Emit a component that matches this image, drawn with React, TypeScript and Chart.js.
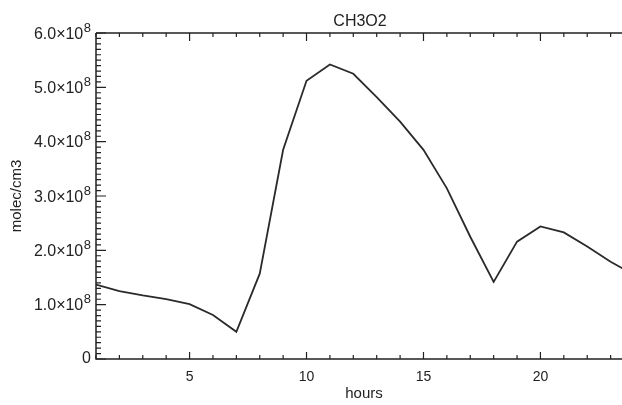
import React, { useEffect, useRef } from "react";
import { Chart, registerables } from "chart.js";

Chart.register(...registerables);

const hours = [1, 2, 3, 4, 5, 6, 7, 8, 9, 10, 11, 12, 13, 14, 15, 16, 17, 18, 19, 20, 21, 22, 23, 24];
const ch3o2 = [
  1.37e8, 1.25e8, 1.17e8, 1.1e8, 1.01e8, 0.81e8, 0.5e8, 1.57e8, 3.85e8, 5.12e8, 5.42e8, 5.25e8,
  4.82e8, 4.37e8, 3.85e8, 3.14e8, 2.25e8, 1.42e8, 2.16e8, 2.44e8, 2.33e8, 2.07e8, 1.79e8, 1.55e8,
];
const xTickValues = [5, 10, 15, 20];
const yTickValues = [0, 1e8, 2e8, 3e8, 4e8, 5e8, 6e8];
const yTickMantissas = ["0", "1.0", "2.0", "3.0", "4.0", "5.0", "6.0"];
const titleText = "CH3O2";
const xTitle = "hours";
const yTitle = "molec/cm3";

const FONT = '"Liberation Sans", Arial, sans-serif';
const INK = "#222";

const framePlugin = {
  id: "idlFrame",
  afterDraw(chart: any) {
    const { ctx, chartArea, scales } = chart;
    const { left, right, top, bottom } = chartArea;
    const x = scales.x;
    const y = scales.y;
    ctx.save();
    ctx.strokeStyle = INK;
    ctx.lineWidth = 1.5;
    ctx.beginPath();
    ctx.moveTo(left, top);
    ctx.lineTo(right, top);
    ctx.moveTo(left, top);
    ctx.lineTo(left, bottom);
    ctx.lineTo(right, bottom);
    ctx.stroke();

    ctx.lineWidth = 1.2;
    ctx.beginPath();
    for (let h = Math.ceil(x.min); h <= x.max; h++) {
      const px = x.getPixelForValue(h);
      const major = h % 5 === 0;
      ctx.moveTo(px, bottom);
      ctx.lineTo(px, bottom - (major ? 7 : 4));
      ctx.moveTo(px, top);
      ctx.lineTo(px, top + (major ? 8 : 4));
    }
    const step = 1e7;
    for (let i = 0; i * step <= y.max + 1; i++) {
      const py = y.getPixelForValue(i * step);
      const major = i % 10 === 0;
      ctx.moveTo(left, py);
      ctx.lineTo(left + (major ? 10 : 5), py);
    }
    ctx.stroke();

    ctx.fillStyle = INK;
    ctx.textBaseline = "alphabetic";
    const rightEdge = left - 5;
    yTickValues.forEach((v, i) => {
      const py = y.getPixelForValue(v);
      const mant = yTickMantissas[i];
      if (v === 0) {
        ctx.font = `16px ${FONT}`;
        ctx.textAlign = "right";
        ctx.fillText(mant, rightEdge, py + 4);
        return;
      }
      ctx.font = `13px ${FONT}`;
      const sup = "8";
      const supW = ctx.measureText(sup).width;
      ctx.textAlign = "left";
      ctx.fillText(sup, rightEdge - supW, py - 1.5);
      ctx.font = `16px ${FONT}`;
      ctx.textAlign = "right";
      ctx.fillText(mant + "×10", rightEdge - supW - 0.5, py + 5.5);
    });

    ctx.font = `16px ${FONT}`;
    ctx.textAlign = "center";
    ctx.fillText(titleText, (left + right) / 2 - 5, 26);

    ctx.font = `15px ${FONT}`;
    ctx.fillText(xTitle, (left + right) / 2 - 1, 398);

    ctx.save();
    ctx.translate(21, (top + bottom) / 2);
    ctx.rotate(-Math.PI / 2);
    ctx.font = `15px ${FONT}`;
    ctx.textAlign = "center";
    ctx.fillText(yTitle, 0, 0);
    ctx.restore();

    ctx.restore();
  },
};

export default function App() {
  const ref = useRef<HTMLCanvasElement | null>(null);
  useEffect(() => {
    if (!ref.current) return;
    const chart = new Chart(ref.current, {
      type: "line",
      data: {
        datasets: [
          {
            label: titleText,
            data: hours.map((h, i) => ({ x: h, y: ch3o2[i] })),
            borderColor: "#2a2a2a",
            borderWidth: 1.8,
            pointRadius: 0,
            tension: 0,
            fill: false,
          },
        ],
      },
      options: {
        animation: false,
        responsive: false,
        devicePixelRatio: 1,
        layout: { padding: { top: 33, right: 11, left: 0, bottom: 0 } },
        plugins: {
          legend: { display: false },
          title: { display: false },
          tooltip: { enabled: false },
        },
        scales: {
          x: {
            type: "linear",
            min: 1,
            max: 24,
            grid: { display: false },
            border: { display: false },
            afterBuildTicks: (scale: any) => {
              scale.ticks = xTickValues.map((v) => ({ value: v }));
            },
            afterFit: (scale: any) => {
              scale.height = 46;
            },
            ticks: {
              padding: 2,
              maxRotation: 0,
              autoSkip: false,
              color: INK,
              font: { family: FONT, size: 14 },
              callback: (v: any) => String(v),
            },
          },
          y: {
            type: "linear",
            min: 0,
            max: 6e8,
            grid: { display: false },
            border: { display: false },
            ticks: { display: false },
            afterFit: (scale: any) => {
              scale.width = 96;
            },
          },
        },
      },
      plugins: [framePlugin],
    });
    return () => chart.destroy();
  }, []);

  return (
    <div style={{ position: "fixed", left: 0, top: 0, width: 645, height: 405, background: "#fff" }}>
      <canvas ref={ref} width={645} height={405} style={{ width: 645, height: 405, display: "block" }} />
    </div>
  );
}
